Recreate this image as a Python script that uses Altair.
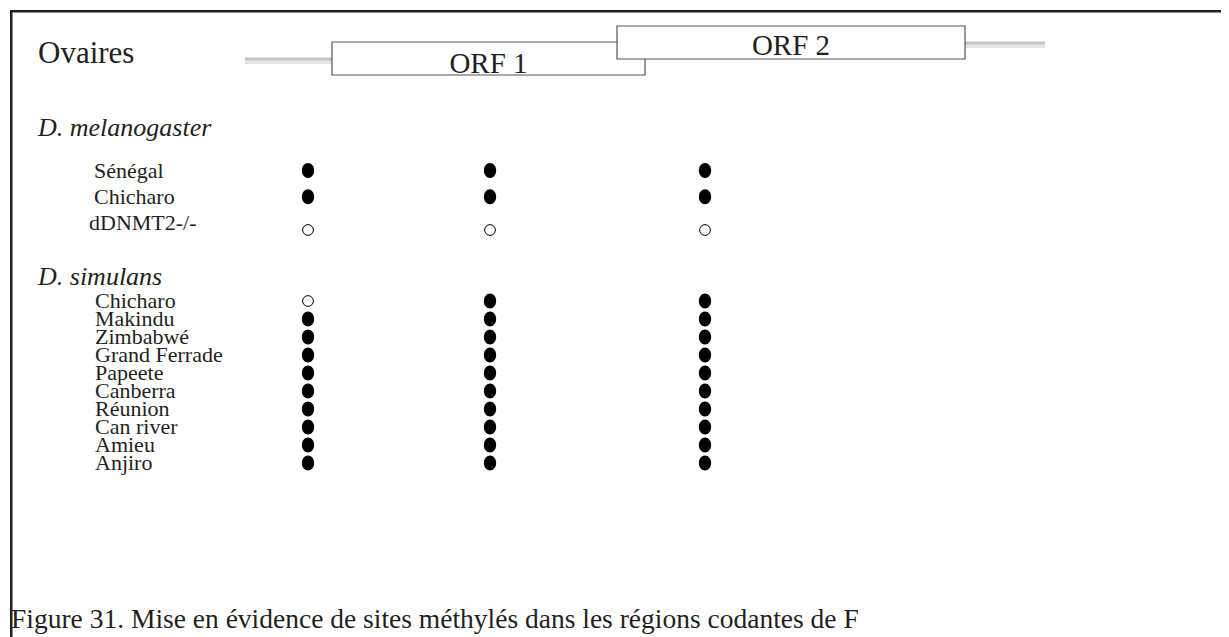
import altair as alt
import pandas as pd

# ---------------- data ----------------
sites = ["Site 1", "Site 2", "Site 3"]
site_bp = [315, 1225, 2300]          # position of each CpG site along the element (bp)

mel_strains = ["Sénégal", "Chicharo", "dDNMT2-/-"]
mel_methylated = [
    [1, 1, 1],
    [1, 1, 1],
    [0, 0, 0],
]

sim_strains = ["Chicharo", "Makindu", "Zimbabwé", "Grand Ferrade", "Papeete",
               "Canberra", "Réunion", "Can river", "Amieu", "Anjiro"]
sim_methylated = [
    [0, 1, 1],
    [1, 1, 1],
    [1, 1, 1],
    [1, 1, 1],
    [1, 1, 1],
    [1, 1, 1],
    [1, 1, 1],
    [1, 1, 1],
    [1, 1, 1],
    [1, 1, 1],
]

flank_names = ["5' flank", "3' flank"]
flank_start = [0, 3600]
flank_end = [435, 4000]
orf_names = ["ORF 1", "ORF 2"]
orf_start = [435, 1860]
orf_end = [2000, 3600]

tissue = "Ovaires"
species = ["D. melanogaster", "D. simulans"]
caption = "Figure 31. Mise en évidence de sites méthylés dans les régions codantes de F"

# ---------------- layout (chart coords = page - 8) ----------------
W, H = 1213, 629
FONT = "Liberation Serif"
INK = "#231f20"
X_BP = alt.Scale(domain=[0, 4000], range=[235, 1035], nice=False, zero=False)
NO = dict(axis=None)


def rows(strains, meth):
    out = []
    for s, vals in zip(strains, meth):
        for site, bp, v in zip(sites, site_bp, vals):
            out.append({"strain": s, "site": site, "bp": bp, "methylated": bool(v)})
    return pd.DataFrame(out)


mel_df = rows(mel_strains, mel_methylated)
sim_df = rows(sim_strains, sim_methylated)
mel_lab = pd.DataFrame({"strain": mel_strains})
sim_lab = pd.DataFrame({"strain": sim_strains})

mel_y = alt.Scale(type="point", domain=mel_strains, range=[160.5, 213], padding=0)
sim_y = alt.Scale(type="point", domain=sim_strains, range=[291, 453], padding=0)

ELLIPSE = "M-0.82,0 A0.82,1 0 1,0 0.82,0 A0.82,1 0 1,0 -0.82,0 Z"


def dot_layers(df, yscale, open_offset):
    filled = alt.Chart(df).transform_filter("datum.methylated").mark_point(
        shape=ELLIPSE, filled=True, color="black", size=225, opacity=1
    ).encode(x=alt.X("bp:Q", scale=X_BP, **NO), y=alt.Y("strain:N", scale=yscale, **NO))
    empty = alt.Chart(df).transform_filter("!datum.methylated").mark_point(
        shape="circle", filled=False, color="black", size=115, strokeWidth=1, opacity=1,
        yOffset=open_offset
    ).encode(x=alt.X("bp:Q", scale=X_BP, **NO), y=alt.Y("strain:N", scale=yscale, **NO))
    return [filled, empty]


def label_layer(df, yscale, x, flt=None):
    base = alt.Chart(df)
    if flt is not None:
        base = base.transform_filter(flt)
    return base.mark_text(
        align="left", baseline="middle", font=FONT, fontSize=22, color=INK
    ).encode(x=alt.value(x), y=alt.Y("strain:N", scale=yscale, **NO), text="strain:N")


mel_labels_a = label_layer(mel_lab, mel_y, 84, "datum.strain != 'dDNMT2-/-'")
mel_labels_b = label_layer(mel_lab, mel_y, 79, "datum.strain == 'dDNMT2-/-'")
sim_labels = label_layer(sim_lab, sim_y, 85)

# gene map
flank_df = pd.DataFrame({"name": flank_names, "start": flank_start, "end": flank_end,
                         "ypos": ["low", "high"]})
orf_df = pd.DataFrame({"name": orf_names, "start": orf_start, "end": orf_end})
orf_df["mid"] = (orf_df["start"] + orf_df["end"]) / 2

FLANK_Y = alt.Scale(type="point", domain=["low", "high"], range=[49, 33], padding=0)
SHADOW_Y = alt.Scale(type="point", domain=["low", "high"], range=[51, 35], padding=0)
shadow = alt.Chart(flank_df).mark_rule(color="#e4e4e4", strokeWidth=6).encode(
    x=alt.X("start:Q", scale=X_BP, **NO), x2="end:Q",
    y=alt.Y("ypos:N", scale=SHADOW_Y, **NO))
flank = alt.Chart(flank_df).mark_rule(color="#c4c4c4", strokeWidth=3).encode(
    x=alt.X("start:Q", scale=X_BP, **NO), x2="end:Q",
    y=alt.Y("ypos:N", scale=FLANK_Y, **NO))

orf1 = alt.Chart(orf_df).transform_filter(alt.datum.name == "ORF 1").mark_rect(
    fill="white", stroke="#555555", strokeWidth=1.2
).encode(x=alt.X("start:Q", scale=X_BP, **NO), x2="end:Q", y=alt.value(32), y2=alt.value(65))
orf1_t = alt.Chart(orf_df).transform_filter(alt.datum.name == "ORF 1").mark_text(
    font=FONT, fontSize=29, color=INK, baseline="alphabetic", align="center"
).encode(x=alt.X("mid:Q", scale=X_BP, **NO), y=alt.value(63), text="name:N")
orf2 = alt.Chart(orf_df).transform_filter(alt.datum.name == "ORF 2").mark_rect(
    fill="white", stroke="#555555", strokeWidth=1.2
).encode(x=alt.X("start:Q", scale=X_BP, **NO), x2="end:Q", y=alt.value(16), y2=alt.value(49))
orf2_t = alt.Chart(orf_df).transform_filter(alt.datum.name == "ORF 2").mark_text(
    font=FONT, fontSize=29, color=INK, baseline="alphabetic", align="center"
).encode(x=alt.X("mid:Q", scale=X_BP, **NO), y=alt.value(45), text="name:N")

# texts
ov = alt.Chart(pd.DataFrame({"t": [tissue]})).mark_text(
    font=FONT, fontSize=31, color=INK, align="left", baseline="alphabetic").encode(
    x=alt.value(28), y=alt.value(53), text="t:N")
sp_df = pd.DataFrame({"t": species, "k": ["mel", "sim"]})
sp = alt.Chart(sp_df).mark_text(font=FONT, fontSize=26, fontStyle="italic", color=INK,
                                align="left", baseline="alphabetic").encode(
    x=alt.value(28),
    y=alt.Y("k:N", scale=alt.Scale(type="point", domain=["mel", "sim"], range=[126, 275],
                                   padding=0), **NO),
    text="t:N")
cap = alt.Chart(pd.DataFrame({"t": [caption]})).mark_text(
    font=FONT, fontSize=27.5, color=INK, align="left", baseline="alphabetic").encode(
    x=alt.value(1), y=alt.value(618), text="t:N")

# frame
top = alt.Chart(pd.DataFrame({"a": [0]})).mark_rule(color=INK, strokeWidth=2.5).encode(
    x=alt.value(0), x2=alt.value(W), y=alt.value(1.25))
left = alt.Chart(pd.DataFrame({"a": [0]})).mark_rule(color=INK, strokeWidth=2.5).encode(
    x=alt.value(1.25), y=alt.value(0), y2=alt.value(H))

layers = [top, left, shadow, flank, orf1, orf1_t, orf2, orf2_t, ov, sp,
          mel_labels_a, mel_labels_b, *dot_layers(mel_df, mel_y, 7),
          sim_labels, *dot_layers(sim_df, sim_y, 0), cap]

chart = alt.layer(*layers).resolve_scale(y="independent").properties(
    width=W, height=H,
    autosize=alt.AutoSizeParams(type="fit", contains="padding"),
    padding=0,
).configure(background="white").configure_view(stroke=None)

chart.save("out.html", embed_options={"renderer": "svg", "actions": False})
